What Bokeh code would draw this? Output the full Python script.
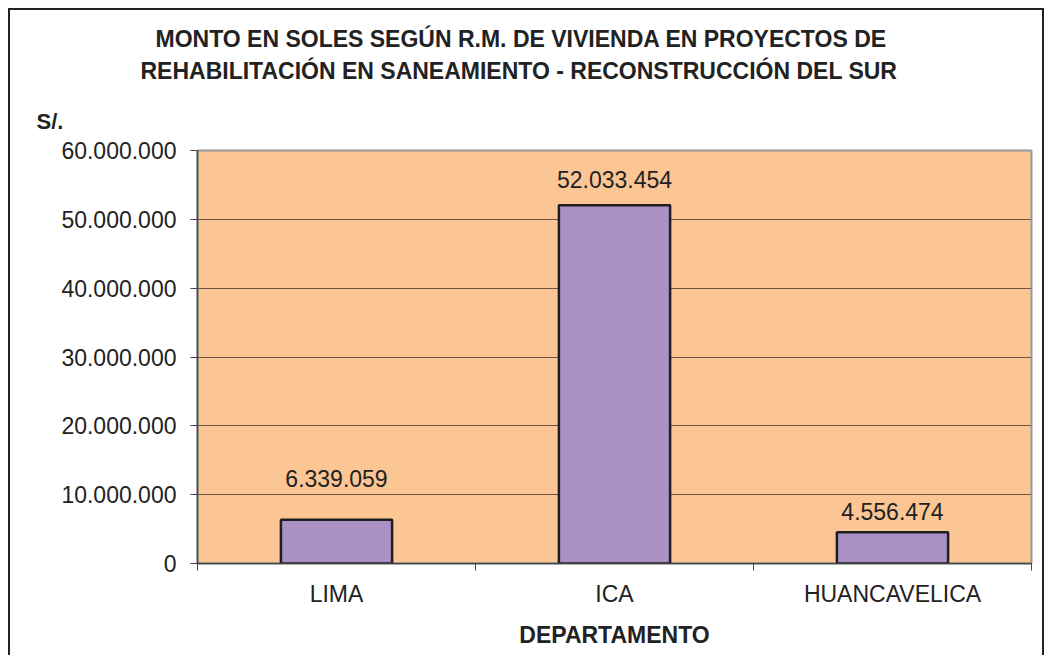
from bokeh.plotting import figure
from bokeh.models import ColumnDataSource, Range1d, FixedTicker, Title
from bokeh.embed import file_html
from bokeh.resources import INLINE
from bokeh.core.properties import value

# ---- data ----
categories = ["LIMA", "ICA", "HUANCAVELICA"]
amounts = [6339059, 52033454, 4556474]
amount_labels = ["6.339.059", "52.033.454", "4.556.474"]
y_ticks = [0, 10000000, 20000000, 30000000, 40000000, 50000000, 60000000]
y_tick_labels = ["0", "10.000.000", "20.000.000", "30.000.000", "40.000.000", "50.000.000", "60.000.000"]
title_lines = ["MONTO EN SOLES SEGÚN R.M. DE VIVIENDA EN PROYECTOS DE",
               "REHABILITACIÓN EN SANEAMIENTO -  RECONSTRUCCIÓN DEL SUR"]
y_unit = "S/."
x_title = "DEPARTAMENTO"

# label vertical offsets (px, style only)
label_offsets = [-41, -26, -21]

FONT = "Liberation Sans"
xs = [i + 0.5 for i in range(len(categories))]

src = ColumnDataSource(dict(x=xs, top=amounts, lab=amount_labels, off=label_offsets))

p = figure(width=1036, height=647, output_backend="svg", toolbar_location=None,
           x_range=Range1d(0, len(categories)), y_range=Range1d(0, 60000000),
           min_border_left=187, min_border_top=140, min_border_right=15, min_border_bottom=94)
p.styles = {"margin-left": "8px", "margin-top": "8px",
            "border-left": "2px solid #222", "border-top": "2px solid #222",
            "border-right": "2px solid #222"}

p.background_fill_color = "#FBC594"
p.border_fill_color = "white"
p.outline_line_color = "#9a9a9a"
p.outline_line_width = 2

p.vbar(x="x", top="top", width=0.4, source=src, fill_color="#AB90C6",
       line_color="#1e1e1e", line_width=2.5)
p.text(x="x", y="top", text="lab", source=src, y_offset="off",
       text_align="center", text_baseline="middle", text_font=value(FONT),
       text_font_size="23px", text_color="#222")

# grid
p.xgrid.visible = False
p.ygrid.ticker = FixedTicker(ticks=y_ticks)
p.ygrid.grid_line_color = "#6a5646"
p.ygrid.grid_line_width = 1

# y axis
ya = p.yaxis[0]
ya.ticker = FixedTicker(ticks=y_ticks)
ya.major_label_overrides = {t: l for t, l in zip(y_ticks, y_tick_labels)}
ya.major_label_text_font = FONT
ya.major_label_text_font_size = "23px"
ya.major_label_text_color = "#222"
ya.axis_line_color = "#444"
ya.axis_line_width = 1.5
ya.major_tick_line_color = "#444"
ya.major_tick_out = 7
ya.major_tick_in = 0
ya.minor_tick_line_color = None
ya.major_label_standoff = 14

# x axis
xa = p.xaxis[0]
xa.ticker = FixedTicker(ticks=xs, minor_ticks=list(range(len(categories) + 1)))
xa.major_label_overrides = {x: c for x, c in zip(xs, categories)}
xa.major_tick_line_color = None
xa.minor_tick_line_color = "#444"
xa.minor_tick_out = 7
xa.minor_tick_in = 0
xa.axis_line_color = "#444"
xa.axis_line_width = 1.5
xa.major_label_text_font = FONT
xa.major_label_text_font_size = "23px"
xa.major_label_text_color = "#222"
xa.major_label_standoff = 10
xa.axis_label = x_title
xa.axis_label_text_font = FONT
xa.axis_label_text_font_style = "bold"
xa.axis_label_text_font_size = "23px"
xa.axis_label_text_color = "#222"
xa.axis_label_standoff = 12

# titles stacked above (first added = closest to the frame)
def mk_title(text, size, offset, standoff):
    return Title(text=text, align="left", offset=offset, standoff=standoff,
                 text_font=FONT, text_font_style="bold", text_font_size=size,
                 text_color="#222")

p.add_layout(mk_title(y_unit, "22px", -161, 33), "above")
p.add_layout(mk_title(title_lines[1], "23px", -57, 13), "above")
p.add_layout(mk_title(title_lines[0], "23px", -42, -4), "above")

open("out.html", "w").write(file_html(p, INLINE))
